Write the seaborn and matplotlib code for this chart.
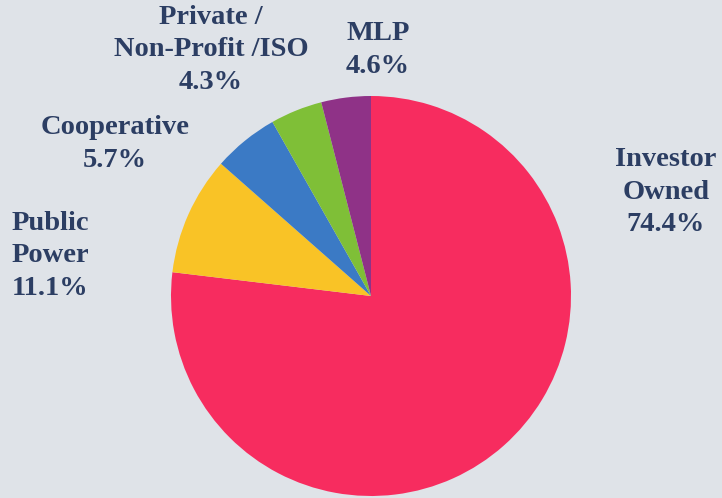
import matplotlib
matplotlib.use('Agg')
import matplotlib.pyplot as plt
import seaborn as sns

sns.set_theme(style='white')
plt.rcParams['font.family'] = 'serif'
plt.rcParams['font.serif'] = ['Liberation Serif', 'Times New Roman', 'DejaVu Serif']

# data
categories = ['Investor\nOwned', 'Public\nPower', 'Cooperative', 'Private /\nNon-Profit /ISO', 'MLP']
label_pct = [74.4, 11.1, 5.7, 4.3, 4.6]          # printed labels
wedge_share = [76.9, 9.6, 5.3, 4.2, 4.0]         # wedge sizes as drawn
colors = ['#f72c5f', '#f9c326', '#3b7ac5', '#7fbf37', '#8f3287']

bg = '#dfe3e8'
txt = '#2c3e63'

W, H = 722, 498
fig = plt.figure(figsize=(W / 100, H / 100), dpi=100, facecolor=bg)
ax = fig.add_axes([(371 - 200) / W, (498 - 496) / H, 400 / W, 400 / H])
ax.set_facecolor(bg)
ax.pie(wedge_share, colors=colors, startangle=90, counterclock=False,
       wedgeprops={'linewidth': 0})
ax.set_xlim(-1, 1)
ax.set_ylim(-1, 1)
ax.set_aspect('equal')
ax.axis('off')

# label placement (pixel centres, alignment)
label_pos = [(666, 192, 'center'), (12, 256, 'left'), (115, 144, 'center'),
             (211, 50, 'center'), (378, 50, 'center')]
for name, val, (px, py, ha) in zip(categories, label_pct, label_pos):
    fig.text(px / W, 1 - py / H, f'{name}\n{val:.1f}%', ha=ha, va='center',
             multialignment=ha, fontsize=20.5, fontweight='bold', color=txt,
             linespacing=1.4)

fig.savefig('out.png', dpi=100, facecolor=bg)
